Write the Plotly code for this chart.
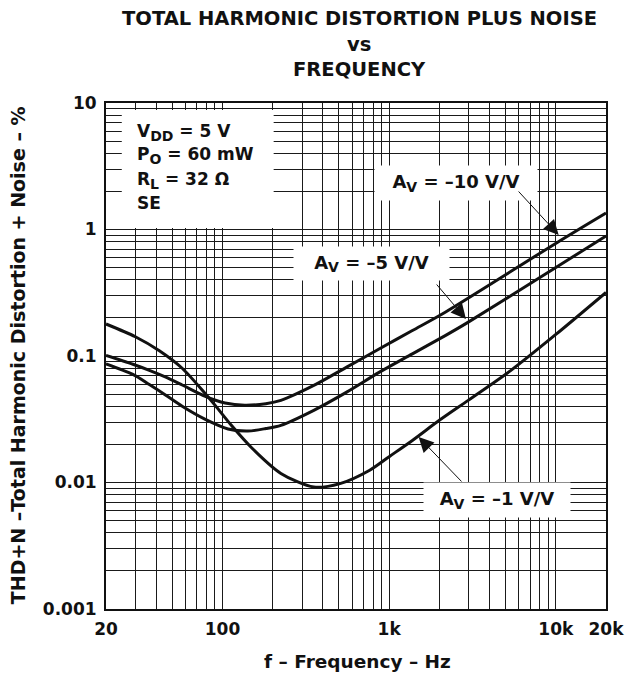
import math
import plotly.graph_objects as go

# ---- data ----
freq_av1 = [20, 30, 41.8, 57.3, 78.9, 90.4, 113, 149, 224, 353, 507, 764, 1000, 1378, 2000, 2979, 5380, 10000, 20000]
thd_av1 = [0.179, 0.142, 0.110, 0.080, 0.0503, 0.0407, 0.0283, 0.0189, 0.0118, 0.0092, 0.0098, 0.0125, 0.016, 0.0215, 0.031, 0.0446, 0.077, 0.148, 0.318]

freq_av5 = [20, 29, 36.4, 45.7, 57.3, 78.9, 108, 142, 182, 224, 353, 556, 875, 1378, 2170, 2917, 10000, 20000]
thd_av5 = [0.0867, 0.0715, 0.0595, 0.049, 0.040, 0.0315, 0.0265, 0.0255, 0.0267, 0.0283, 0.0372, 0.0518, 0.0745, 0.104, 0.145, 0.182, 0.50, 0.89]

freq_av10 = [20, 29, 36.4, 45.7, 57.3, 78.9, 103.6, 136, 182, 224, 353, 556, 875, 1378, 2170, 10200, 20000]
thd_av10 = [0.101, 0.086, 0.077, 0.068, 0.059, 0.048, 0.0425, 0.0408, 0.042, 0.0446, 0.0585, 0.0817, 0.114, 0.159, 0.222, 0.79, 1.35]

x_tickvals = [20, 100, 1000, 10000, 20000]
x_ticktext = ["20", "100", "1k", "10k", "20k"]
x_minor = [30, 40, 50, 60, 70, 80, 90, 200, 300, 400, 500, 600, 700, 800, 900,
           2000, 3000, 4000, 5000, 6000, 7000, 8000, 9000]
y_tickvals = [0.001, 0.01, 0.1, 1, 10]
y_ticktext = ["0.001", "0.01", "0.1", "1", "10"]
y_minor = [m * d for d in [0.001, 0.01, 0.1, 1] for m in range(2, 10)]

FONT = "DejaVu Sans, Liberation Sans, sans-serif"
GRID = "#1a1a1a"
INK = "#111111"

fig = go.Figure()
for fx, fy, name in [(freq_av1, thd_av1, "AV = -1 V/V"),
                     (freq_av5, thd_av5, "AV = -5 V/V"),
                     (freq_av10, thd_av10, "AV = -10 V/V")]:
    fig.add_trace(go.Scatter(x=fx, y=fy, mode="lines", name=name,
                             line=dict(color=INK, width=3, shape="spline", smoothing=0.8),
                             showlegend=False))

axis_common = dict(showgrid=True, gridcolor=GRID, gridwidth=1,
                   showline=True, linecolor=INK, linewidth=2, mirror=True,
                   ticks="", zeroline=False,
                   tickfont=dict(family=FONT, size=17, color=INK, weight="bold"))

# page body has an 8px margin, so the figure is drawn 8px in from the window corner
fig.update_layout(
    width=628, height=671,
    margin=dict(l=98, r=23, t=95, b=70),
    paper_bgcolor="white", plot_bgcolor="white",
    xaxis=dict(type="log", range=[math.log10(20), math.log10(20000)],
               tickvals=x_tickvals, ticktext=x_ticktext, ticklabelstandoff=4,
               minor=dict(tickmode="array", tickvals=x_minor, showgrid=True,
                          gridcolor=GRID, gridwidth=1, ticks=""),
               **axis_common),
    yaxis=dict(type="log", range=[-3, 1],
               tickvals=y_tickvals, ticktext=y_ticktext, ticklabelstandoff=4,
               minor=dict(tickmode="array", tickvals=y_minor, showgrid=True,
                          gridcolor=GRID, gridwidth=1, ticks=""),
               **axis_common),
)

# positions below are given in the reference's window pixels
def px2paper_x(px):
    return (px - 106) / 507.0

def px2paper_y(py):
    return (609 - py) / 506.0

ann = []
# Title lines
for txt, py in [("TOTAL HARMONIC DISTORTION PLUS NOISE", 18), ("vs", 44), ("FREQUENCY", 70)]:
    ann.append(dict(text=txt, x=px2paper_x(363), y=px2paper_y(py), xref="paper", yref="paper",
                    xanchor="center", yanchor="middle", showarrow=False,
                    font=dict(family=FONT, size=19.5, color=INK, weight="bold")))
# Axis titles
ann.append(dict(text="f – Frequency – Hz", x=px2paper_x(361), y=px2paper_y(661),
                xref="paper", yref="paper", xanchor="center", yanchor="middle", showarrow=False,
                font=dict(family=FONT, size=18.5, color=INK, weight="bold")))
ann.append(dict(text="THD+N –Total Harmonic Distortion + Noise – %", x=px2paper_x(17), y=px2paper_y(355),
                xref="paper", yref="paper", xanchor="center", yanchor="middle", showarrow=False,
                textangle=-90,
                font=dict(family=FONT, size=19, color=INK, weight="bold")))

SUB = "<sub><span style='font-size:14px'>{}</span></sub>"

# Conditions box
fig.add_shape(type="rect", xref="paper", yref="paper",
              x0=px2paper_x(122), x1=px2paper_x(276), y0=px2paper_y(228), y1=px2paper_y(110),
              fillcolor="white", line=dict(width=0), layer="above")
for txt, py in [("V" + SUB.format("DD") + " = 5 V", 132), ("P" + SUB.format("O") + " = 60 mW", 156),
                ("R" + SUB.format("L") + " = 32 Ω", 180), ("SE", 203)]:
    ann.append(dict(text=txt, x=px2paper_x(135), y=px2paper_y(py), xref="paper", yref="paper",
                    xanchor="left", yanchor="middle", showarrow=False,
                    font=dict(family=FONT, size=17, color=INK, weight="bold")))

# Gain labels (boxes) and arrows, positions in log10 data units
labels = [
    ("A" + SUB.format("V") + " = –10 V/V", 461, 183, 162, 34, (523, 190), (565, 235)),
    ("A" + SUB.format("V") + " = –5 V/V", 375, 263, 155, 33, (440, 283), (471, 319)),
    ("A" + SUB.format("V") + " = –1 V/V", 502, 500, 146, 34, (468, 483), (423, 437)),
]
def lx(px):
    return math.log10(20) + (px - 106) / 169.0
def ly(py):
    return 1 - (py - 103) / 126.5

for txt, cx, cy, w, h, tail, tip in labels:
    ann.append(dict(text=txt, x=lx(cx), y=ly(cy), xref="x", yref="y",
                    xanchor="center", yanchor="middle", showarrow=False,
                    bgcolor="white", width=w, height=h, borderpad=0,
                    font=dict(family=FONT, size=18, color=INK, weight="bold")))
    ann.append(dict(text="", x=lx(tip[0]), y=ly(tip[1]), ax=lx(tail[0]), ay=ly(tail[1]),
                    xref="x", yref="y", axref="x", ayref="y",
                    showarrow=True, arrowhead=2, arrowsize=3, arrowwidth=1,
                    arrowcolor=INK, standoff=0, startstandoff=0))

fig.update_layout(annotations=ann)
fig.write_html("out.html")
